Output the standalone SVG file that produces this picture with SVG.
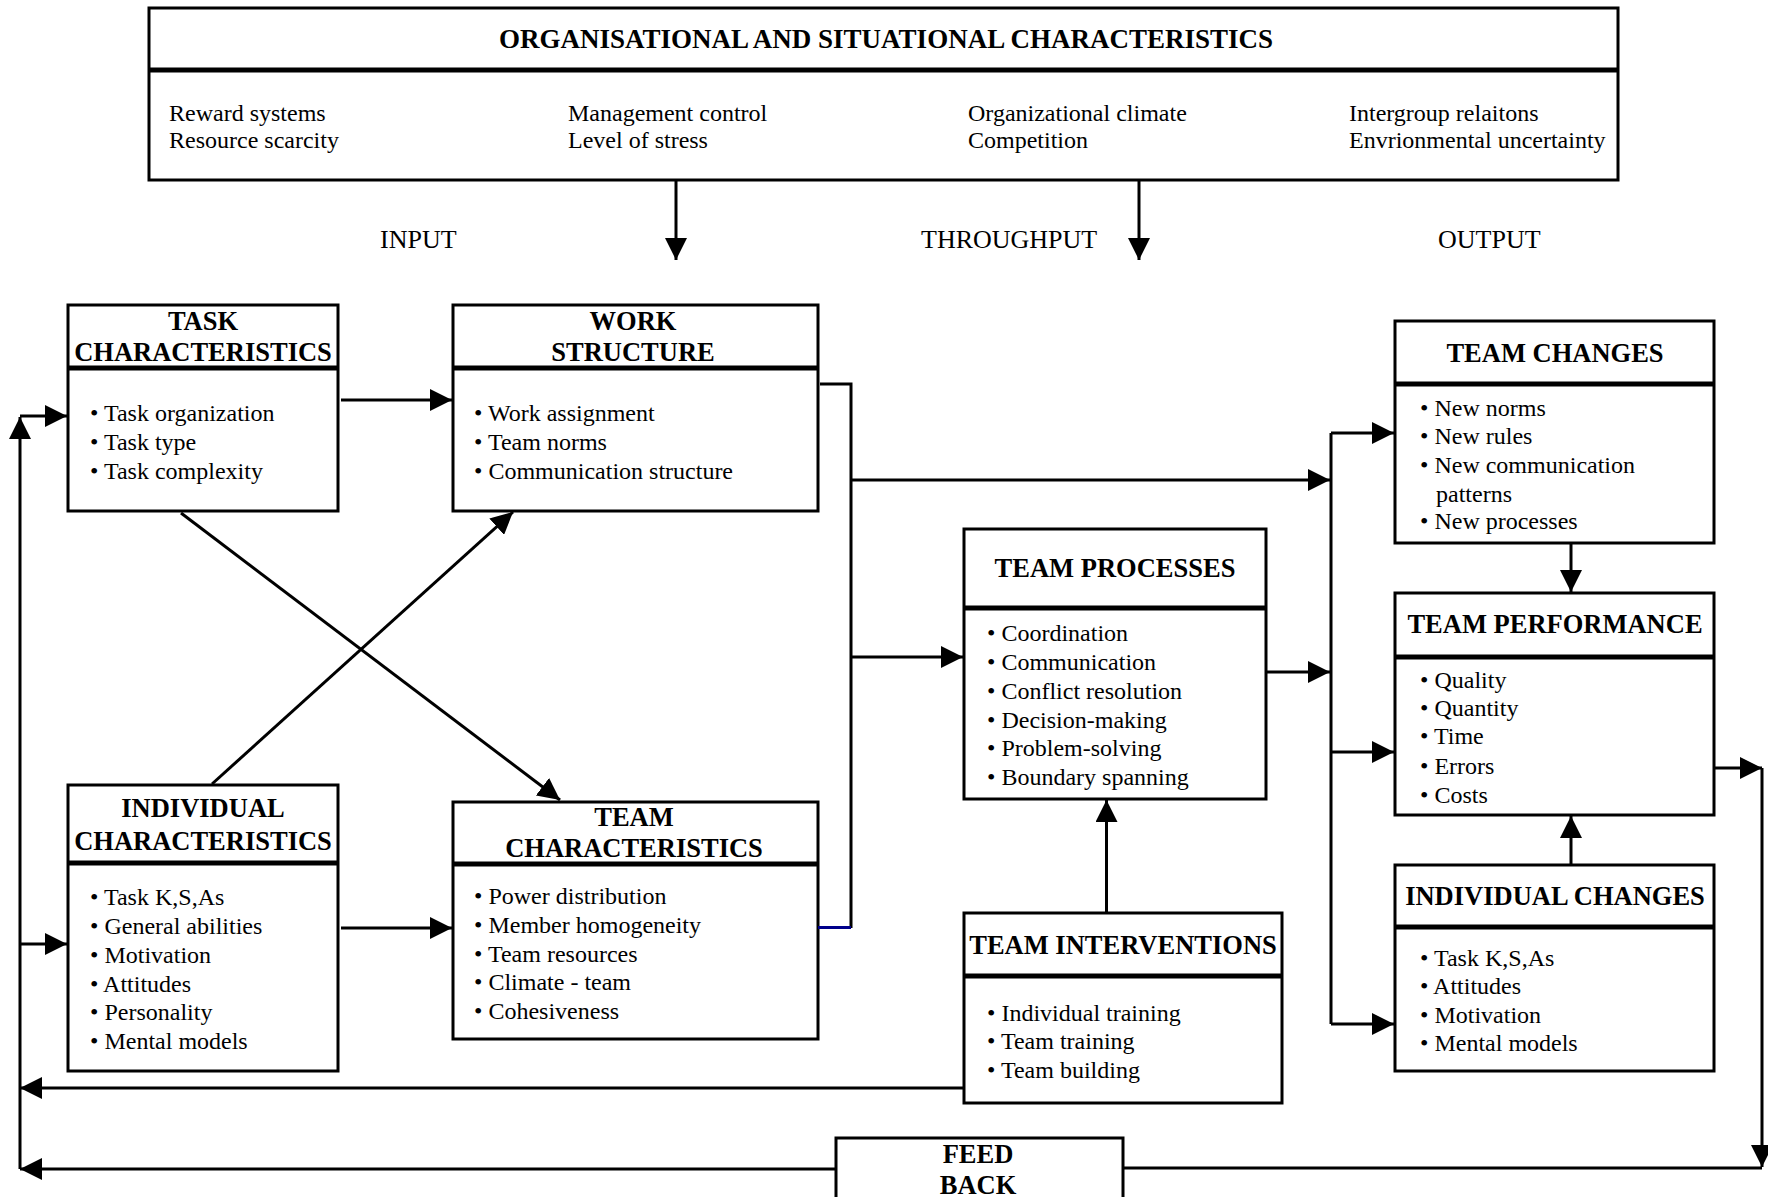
<svg xmlns="http://www.w3.org/2000/svg" width="1768" height="1197" viewBox="0 0 1768 1197">
  <defs>
    <style>
      .box { fill: #fff; stroke: #000; stroke-width: 3; }
      .sep { stroke: #000; stroke-width: 5; }
      .title { font-family: "Liberation Serif", "Times New Roman", serif; font-weight: bold; font-size: 26.5px; text-anchor: middle; fill: #000; }
      .item { font-family: "Liberation Serif", "Times New Roman", serif; font-size: 24px; fill: #000; }
      .label { font-family: "Liberation Serif", "Times New Roman", serif; font-size: 26px; fill: #000; }
      .wire { stroke: #000; stroke-width: 3; fill: none; }
      .arrow { stroke: #000; stroke-width: 3; fill: none; marker-end: url(#head); }
    </style>
    <marker id="head" markerUnits="userSpaceOnUse" viewBox="0 0 22 22" markerWidth="22" markerHeight="22" refX="22" refY="11" orient="auto">
      <path d="M0,0 L22,11 L0,22 z" fill="#000"/>
    </marker>
  </defs>

  <rect width="1768" height="1197" fill="#fff"/>

  <!-- Organisational context -->
  <g id="org-characteristics">
    <rect class="box" x="149" y="8" width="1469" height="172"/>
    <line class="sep" x1="149" y1="70" x2="1618" y2="70"/>
    <text class="title" x="886" y="48" style="font-size:27px">ORGANISATIONAL AND SITUATIONAL CHARACTERISTICS</text>
    <text class="item" x="169" y="121">Reward systems</text>
    <text class="item" x="169" y="148">Resource scarcity</text>
    <text class="item" x="568" y="121">Management control</text>
    <text class="item" x="568" y="148">Level of stress</text>
    <text class="item" x="968" y="121">Organizational climate</text>
    <text class="item" x="968" y="148">Competition</text>
    <text class="item" x="1349" y="121">Intergroup relaitons</text>
    <text class="item" x="1349" y="148">Envrionmental uncertainty</text>
  </g>

  <!-- Stage labels -->
  <g id="stage-labels">
    <text class="label" x="380" y="248">INPUT</text>
    <text class="label" x="921" y="248">THROUGHPUT</text>
    <text class="label" x="1438" y="248">OUTPUT</text>
  </g>

  <g id="task-characteristics">
    <rect class="box" x="68" y="305" width="270" height="206"/>
    <line class="sep" x1="68" y1="368" x2="338" y2="368"/>
    <text class="title" x="203" y="330">TASK</text>
    <text class="title" x="203" y="361">CHARACTERISTICS</text>
    <text class="item" x="90" y="421">• Task organization</text>
    <text class="item" x="90" y="450">• Task type</text>
    <text class="item" x="90" y="479">• Task complexity</text>
  </g>

  <g id="work-structure">
    <rect class="box" x="453" y="305" width="365" height="206"/>
    <line class="sep" x1="453" y1="368" x2="818" y2="368"/>
    <text class="title" x="633" y="330">WORK</text>
    <text class="title" x="633" y="361">STRUCTURE</text>
    <text class="item" x="474" y="421">• Work assignment</text>
    <text class="item" x="474" y="450">• Team norms</text>
    <text class="item" x="474" y="479">• Communication structure</text>
  </g>

  <g id="individual-characteristics">
    <rect class="box" x="68" y="785" width="270" height="286"/>
    <line class="sep" x1="68" y1="863" x2="338" y2="863"/>
    <text class="title" x="203" y="817">INDIVIDUAL</text>
    <text class="title" x="203" y="850">CHARACTERISTICS</text>
    <text class="item" x="90" y="905">• Task K,S,As</text>
    <text class="item" x="90" y="934">• General abilities</text>
    <text class="item" x="90" y="963">• Motivation</text>
    <text class="item" x="90" y="992">• Attitudes</text>
    <text class="item" x="90" y="1020">• Personality</text>
    <text class="item" x="90" y="1049">• Mental models</text>
  </g>

  <g id="team-characteristics">
    <rect class="box" x="453" y="802" width="365" height="237"/>
    <line class="sep" x1="453" y1="864" x2="818" y2="864"/>
    <text class="title" x="634" y="826">TEAM</text>
    <text class="title" x="634" y="857">CHARACTERISTICS</text>
    <text class="item" x="474" y="904">• Power distribution</text>
    <text class="item" x="474" y="933">• Member homogeneity</text>
    <text class="item" x="474" y="962">• Team resources</text>
    <text class="item" x="474" y="990">• Climate - team</text>
    <text class="item" x="474" y="1019">• Cohesiveness</text>
  </g>

  <g id="team-processes">
    <rect class="box" x="964" y="529" width="302" height="270"/>
    <line class="sep" x1="964" y1="608" x2="1266" y2="608"/>
    <text class="title" x="1115" y="577">TEAM PROCESSES</text>
    <text class="item" x="987" y="641">• Coordination</text>
    <text class="item" x="987" y="670">• Communication</text>
    <text class="item" x="987" y="699">• Conflict resolution</text>
    <text class="item" x="987" y="728">• Decision-making</text>
    <text class="item" x="987" y="756">• Problem-solving</text>
    <text class="item" x="987" y="785">• Boundary spanning</text>
  </g>

  <g id="team-interventions">
    <rect class="box" x="964" y="913" width="318" height="190"/>
    <line class="sep" x1="964" y1="976" x2="1282" y2="976"/>
    <text class="title" x="1123" y="954">TEAM INTERVENTIONS</text>
    <text class="item" x="987" y="1021">• Individual training</text>
    <text class="item" x="987" y="1049">• Team training</text>
    <text class="item" x="987" y="1078">• Team building</text>
  </g>

  <g id="team-changes">
    <rect class="box" x="1395" y="321" width="319" height="222"/>
    <line class="sep" x1="1395" y1="384" x2="1714" y2="384"/>
    <text class="title" x="1555" y="362">TEAM CHANGES</text>
    <text class="item" x="1420" y="416">• New norms</text>
    <text class="item" x="1420" y="444">• New rules</text>
    <text class="item" x="1420" y="473">• New communication</text>
    <text class="item" x="1436" y="502">patterns</text>
    <text class="item" x="1420" y="529">• New processes</text>
  </g>

  <g id="team-performance">
    <rect class="box" x="1395" y="593" width="319" height="222"/>
    <line class="sep" x1="1395" y1="657" x2="1714" y2="657"/>
    <text class="title" x="1555" y="633">TEAM PERFORMANCE</text>
    <text class="item" x="1420" y="688">• Quality</text>
    <text class="item" x="1420" y="716">• Quantity</text>
    <text class="item" x="1420" y="744">• Time</text>
    <text class="item" x="1420" y="774">• Errors</text>
    <text class="item" x="1420" y="803">• Costs</text>
  </g>

  <g id="individual-changes">
    <rect class="box" x="1395" y="865" width="319" height="206"/>
    <line class="sep" x1="1395" y1="927" x2="1714" y2="927"/>
    <text class="title" x="1555" y="905">INDIVIDUAL CHANGES</text>
    <text class="item" x="1420" y="966">• Task K,S,As</text>
    <text class="item" x="1420" y="994">• Attitudes</text>
    <text class="item" x="1420" y="1023">• Motivation</text>
    <text class="item" x="1420" y="1051">• Mental models</text>
  </g>

  <g id="feedback">
    <rect class="box" x="836" y="1138" width="287" height="80"/>
    <text class="title" x="978" y="1163">FEED</text>
    <text class="title" x="978" y="1194">BACK</text>
  </g>

  <!-- Connectors -->
  <g id="connectors">
    <!-- context into the model -->
    <path class="arrow" d="M676,181 V260"/>
    <path class="arrow" d="M1139,181 V260"/>

    <!-- inputs -->
    <path class="arrow" d="M341,400 H452"/>
    <path class="arrow" d="M181,513 L560,800"/>
    <path class="arrow" d="M212,784 L513,512"/>
    <path class="arrow" d="M341,928 H452"/>

    <!-- inputs collected into the throughput bus -->
    <path class="wire" d="M820,384 H851 V928"/>
    <path d="M818,927.5 H851" stroke="#00008b" stroke-width="3" fill="none"/>
    <path class="arrow" d="M851,480 H1330"/>
    <path class="arrow" d="M851,657 H963"/>

    <!-- throughput to outputs -->
    <path class="arrow" d="M1267,672 H1330"/>
    <path class="wire" d="M1331,433 V1024"/>
    <path class="arrow" d="M1331,433 H1394"/>
    <path class="arrow" d="M1331,752 H1394"/>
    <path class="arrow" d="M1331,1024 H1394"/>
    <path class="arrow" d="M1571,543 V592"/>
    <path class="arrow" d="M1571,865 V816"/>
    <path class="arrow" d="M1106.5,913 V800"/>

    <!-- feedback loop -->
    <path class="arrow" d="M1715,768 H1762"/>
    <path class="arrow" d="M1762,768 V1167"/>
    <path class="wire" d="M1123,1168 H1762"/>
    <path class="arrow" d="M836,1169 H20"/>
    <path class="arrow" d="M964,1088 H20"/>
    <path class="arrow" d="M20,1169 V417"/>
    <path class="arrow" d="M20,416 H67"/>
    <path class="arrow" d="M20,944 H67"/>
  </g>
</svg>
